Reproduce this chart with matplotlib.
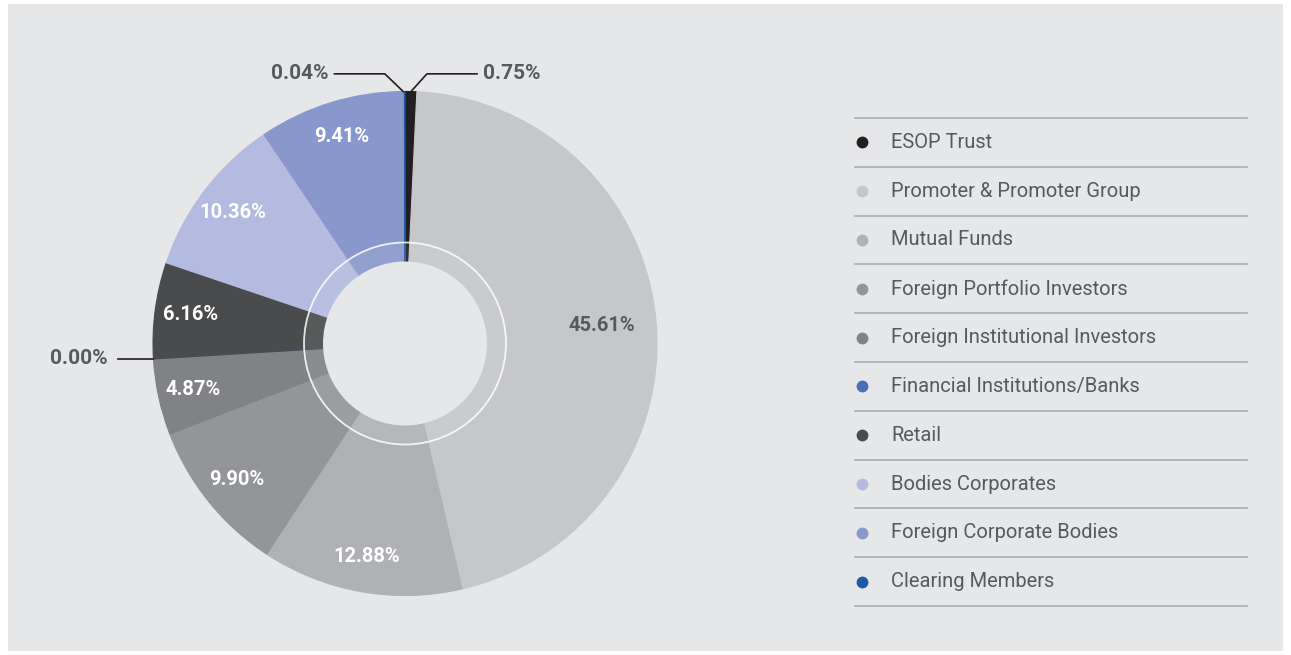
import matplotlib
matplotlib.use("Agg")
import matplotlib.pyplot as plt
import numpy as np
from matplotlib.patches import Rectangle, Circle
from matplotlib.lines import Line2D

# ---------------- data ----------------
categories = ["ESOP Trust", "Promoter & Promoter Group", "Mutual Funds",
              "Foreign Portfolio Investors", "Foreign Institutional Investors",
              "Financial Institutions/Banks", "Retail", "Bodies Corporates",
              "Foreign Corporate Bodies", "Clearing Members"]
values = [0.75, 45.61, 12.88, 9.90, 4.87, 0.00, 6.16, 10.36, 9.41, 0.04]
value_labels = ["0.75%", "45.61%", "12.88%", "9.90%", "4.87%", "0.00%",
                "6.16%", "10.36%", "9.41%", "0.04%"]
colors = ["#231f20", "#c6c7c9", "#b0b1b4", "#939598", "#808285", "#4a6fb5",
          "#4a4b4d", "#b3bbe0", "#8898cc", "#1f5aa6"]

# ---------------- figure ----------------
W, H = 1291, 655
fig = plt.figure(figsize=(W / 100, H / 100), dpi=100)
fig.patch.set_facecolor("white")
fig.add_artist(Rectangle((8 / W, 4 / H), (1283 - 8) / W, (651 - 4) / H,
                         transform=fig.transFigure, facecolor="#e6e7e8",
                         edgecolor="none", zorder=0))

FONT = ["Roboto", "DejaVu Sans"]
TXT = "#58595b"
LBL = 14.5

# pie axes: centre (405, 343.5) px, radius 252 px
cx, cy, R = 405, 343.5, 252
ax = fig.add_axes([(cx - R) / W, (H - cy - R) / H, 2 * R / W, 2 * R / H])
ax.set_facecolor("none")
wedges, _ = ax.pie(values, colors=colors, startangle=90, counterclock=False,
                   radius=1.0, wedgeprops=dict(linewidth=0.8))
for w, c in zip(wedges, colors):
    w.set_edgecolor(c)
ax.set_xlim(-1, 1)
ax.set_ylim(-1, 1)
ax.set_aspect("auto")
ax.axis("off")

# inner ring line + hole
ax.add_patch(Circle((0, 0), 101 / R, facecolor="white", alpha=0.08,
                    edgecolor="none", zorder=3))
ax.add_patch(Circle((0, 0), 101 / R, facecolor="none", edgecolor="white",
                    lw=1.3, alpha=0.85, zorder=4))
ax.add_patch(Circle((0, 0), 82 / R, facecolor="#e6e7e8", edgecolor="none",
                    zorder=5))

# labels
total = sum(values)
cum = np.cumsum([0] + values[:-1])
inside_r = {1: 0.785}
inside_color = {1: TXT}
for i, (v, lab) in enumerate(zip(values, value_labels)):
    mid = (cum[i] + v / 2) / total * 360.0
    ang = np.deg2rad(90 - mid)
    if v >= 1.0:
        r = inside_r.get(i, 0.86)
        ax.text(r * np.cos(ang), r * np.sin(ang), lab, ha="center",
                va="center", fontsize=LBL, fontweight="bold",
                color=inside_color.get(i, "white"), family=FONT, zorder=6)

# external labels with leader lines
def leader(i, pts, tx, ha):
    ax.add_line(Line2D([p[0] for p in pts], [p[1] for p in pts], color="#231f20",
                       lw=1.2, clip_on=False, zorder=6))
    ax.text(tx, pts[-1][1], value_labels[i], ha=ha, va="center", fontsize=LBL + 0.5,
            fontweight="bold", color=TXT, family=FONT, clip_on=False, zorder=6)

def edge_point(i):
    mid = (cum[i] + values[i] / 2) / total * 360.0
    ang = np.deg2rad(90 - mid)
    return np.cos(ang), np.sin(ang)

# ESOP Trust (0.75%)
x0, y0 = edge_point(0)
leader(0, [(x0, y0), (0.087, 1.07), (0.286, 1.07)], 0.31, "left")
# Clearing Members (0.04%)
x0, y0 = edge_point(9)
leader(9, [(x0 - 0.006, y0), (-0.08, 1.07), (-0.28, 1.07)], -0.305, "right")
# Financial Institutions (0.00%)
x0, y0 = edge_point(5)
leader(5, [(x0, y0), (-1.14, y0)], -1.18, "right")

# ---------------- legend ----------------
lx0, lx1 = 855, 1247
top, step = 118, 48.8
for k, (name, c) in enumerate(zip(categories, colors)):
    yl = top + k * step
    fig.add_artist(Line2D([lx0 / W, lx1 / W], [1 - yl / H, 1 - yl / H],
                          transform=fig.transFigure, color="#b0b1b4", lw=1.3))
    yc = yl + step / 2
    fig.add_artist(Line2D([862 / W], [1 - yc / H], transform=fig.transFigure,
                          marker="o", markersize=7.5, color=c, lw=0))
    fig.text(891 / W, 1 - yc / H, name, ha="left", va="center", fontsize=14.5,
             color=TXT, family=FONT)
yl = top + len(categories) * step
fig.add_artist(Line2D([lx0 / W, lx1 / W], [1 - yl / H, 1 - yl / H],
                      transform=fig.transFigure, color="#b0b1b4", lw=1.3))

fig.savefig("out.png", dpi=100, facecolor=fig.get_facecolor())
